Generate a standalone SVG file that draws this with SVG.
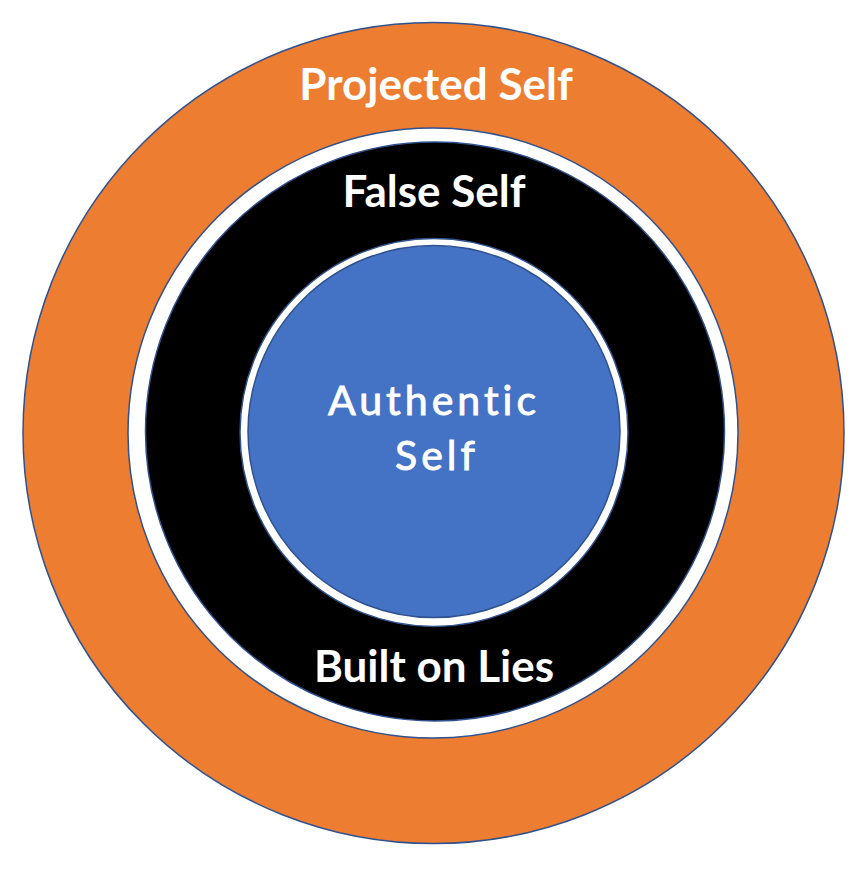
<svg xmlns="http://www.w3.org/2000/svg" width="866" height="870" viewBox="0 0 866 870">
<style>
.ring{stroke:#2F528F;stroke-width:1.5}
.lbl{font-family:Lato,"Liberation Sans",sans-serif;font-weight:bold;font-size:44px;fill:#FFFFFF;text-anchor:middle}
.hand{font-family:Lato,"Liberation Sans",sans-serif;font-weight:normal;font-size:41px;fill:#FFFFFF;stroke:#FFFFFF;stroke-width:0.9;text-anchor:middle;letter-spacing:4px}
</style>
<rect width="866" height="870" fill="#FFFFFF"/>
<g id="projected-self">
<circle class="ring" cx="433.5" cy="433" r="410.5" fill="#ED7D31"/>
<circle class="ring" cx="433" cy="433" r="305" fill="#FFFFFF"/>
<text class="lbl" x="436" y="100">Projected Self</text>
</g>
<g id="false-self">
<circle class="ring" cx="435" cy="431.5" r="289.5" fill="#000000"/>
<circle class="ring" cx="434" cy="432.5" r="194" fill="#FFFFFF"/>
<text class="lbl" x="434" y="207">False Self</text>
<text class="lbl" x="434" y="682">Built on Lies</text>
</g>
<g id="authentic-self">
<circle class="ring" cx="434" cy="431.5" r="186" fill="#4472C4"/>
<text class="hand" x="434" y="415">Authentic</text>
<text class="hand" x="437" y="470">Self</text>
</g>
<g id="connectors"/>
</svg>
